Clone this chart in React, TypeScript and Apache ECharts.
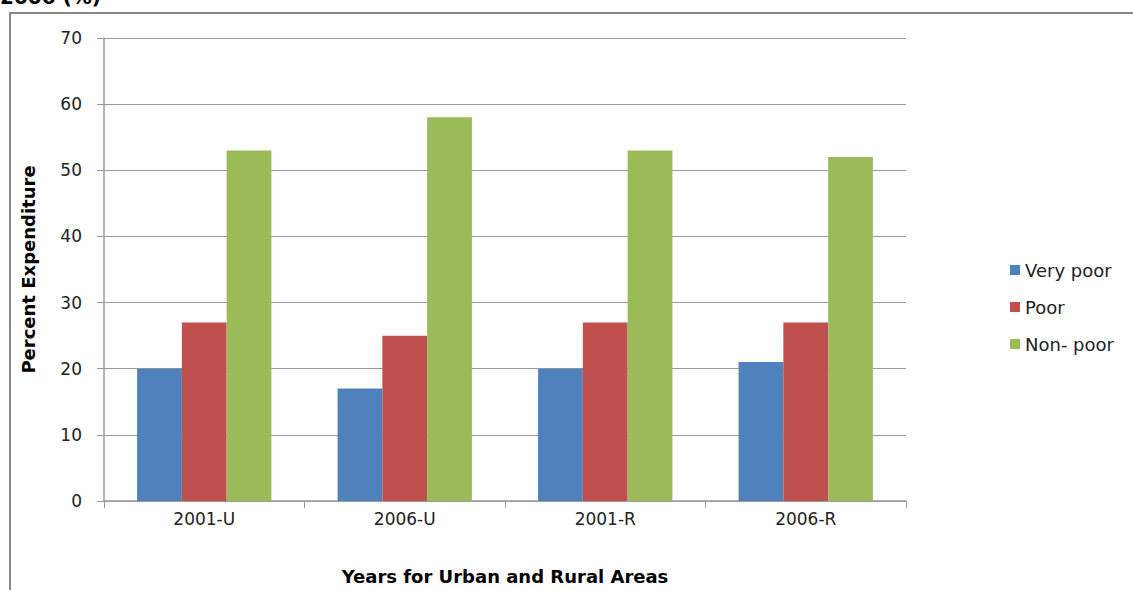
import React, { useEffect, useRef } from "react";
import * as echarts from "echarts";

const categories = ["2001-U", "2006-U", "2001-R", "2006-R"];
const veryPoor = [20, 17, 20, 21];
const poor = [27, 25, 27, 27];
const nonPoor = [53, 58, 53, 52];
const seriesNames = ["Very poor", "Poor", "Non- poor"];
const colors = ["#4F81BD", "#C0504D", "#9BBB59"];

export default function App() {
  const ref = useRef<HTMLDivElement>(null);
  useEffect(() => {
    const chart = echarts.init(ref.current!, null, { renderer: "svg" });
    const font = "'DejaVu Sans', Arial, sans-serif";
    const mk = (name: string, data: number[], color: string) => ({
      name,
      type: "bar",
      data,
      barGap: "0%",
      barCategoryGap: "33%",
      itemStyle: { color },
    });
    chart.setOption({
      animation: false,
      textStyle: { fontFamily: font },
      graphic: [
        {
          type: "rect",
          shape: { x: 10, y: 13, width: 1200, height: 700 },
          style: { fill: "none", stroke: "#888888", lineWidth: 2 },
          silent: true,
        },
        {
          type: "text",
          x: 0,
          y: 7,
          style: {
            text: "2006 (%)",
            font: `bold 20px ${font}`,
            fill: "#000",
            textVerticalAlign: "bottom",
          },
        },
      ],
      legend: {
        orient: "vertical",
        left: 1005,
        top: 256,
        itemWidth: 10,
        itemHeight: 10,
        itemGap: 19,
        icon: "rect",
        textStyle: { fontSize: 18, color: "#222", fontFamily: font },
        data: seriesNames,
      },
      grid: { left: 104, right: 227, top: 38, bottom: 86, containLabel: false },
      xAxis: {
        type: "category",
        data: categories,
        name: "Years for Urban and Rural Areas",
        nameLocation: "middle",
        nameGap: 66,
        nameTextStyle: { fontSize: 18, fontWeight: "bold", color: "#000", fontFamily: font },
        axisLine: { lineStyle: { color: "#9a9a9a", width: 1.5 } },
        axisTick: { show: true, length: 7, lineStyle: { color: "#9a9a9a" } },
        axisLabel: { fontSize: 17, color: "#222", margin: 9 },
      },
      yAxis: {
        type: "value",
        min: 0,
        max: 70,
        interval: 10,
        name: "Percent Expenditure",
        nameLocation: "middle",
        nameGap: 67,
        nameTextStyle: { fontSize: 18, fontWeight: "bold", color: "#000", fontFamily: font },
        axisLine: { show: true, lineStyle: { color: "#9a9a9a", width: 1.5 } },
        axisTick: { show: true, length: 7, lineStyle: { color: "#9a9a9a" } },
        axisLabel: { fontSize: 17, color: "#222", margin: 22 },
        splitLine: { lineStyle: { color: "#9a9a9a", width: 1 } },
      },
      series: [
        mk(seriesNames[0], veryPoor, colors[0]),
        mk(seriesNames[1], poor, colors[1]),
        mk(seriesNames[2], nonPoor, colors[2]),
      ],
    });
    return () => chart.dispose();
  }, []);
  return (
    <div
      ref={ref}
      style={{ position: "fixed", left: 0, top: 0, width: 1133, height: 590, background: "#fff" }}
    />
  );
}
